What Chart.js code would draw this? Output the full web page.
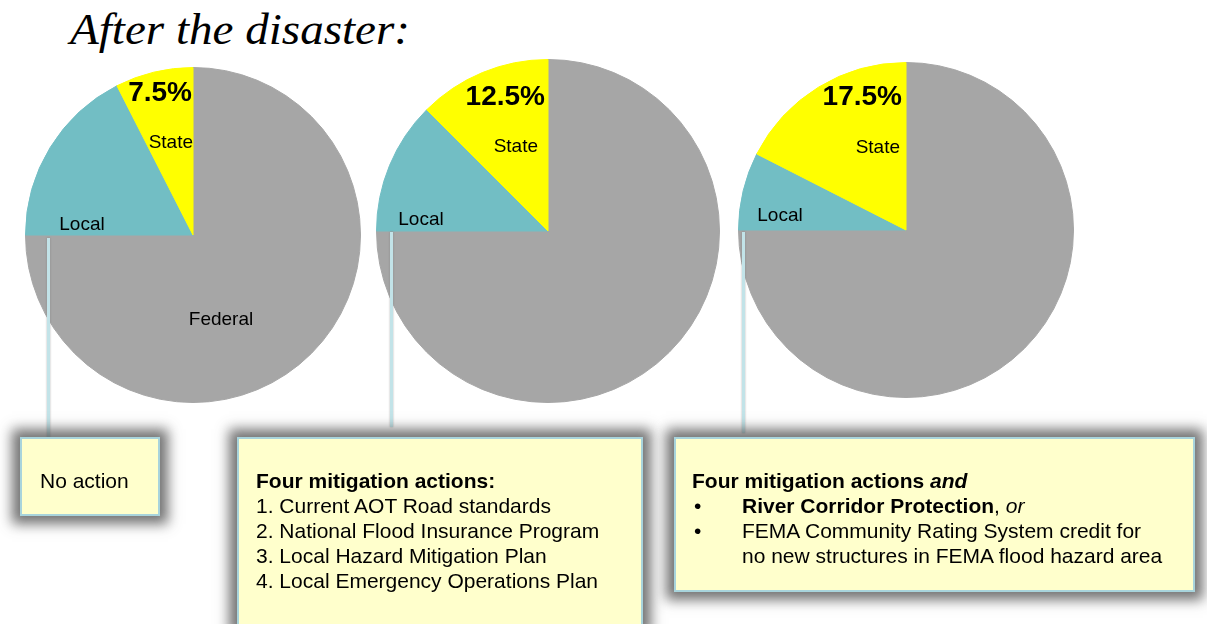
<!DOCTYPE html>
<html>
<head>
<meta charset="utf-8">
<script src="https://cdn.jsdelivr.net/npm/chart.js@4"></script>
<style>
  body { margin: 0; width: 1207px; height: 624px; background: #fff; position: relative; overflow: hidden; font-family: "Liberation Sans", Arial, sans-serif; }
  .title { position: absolute; left: 70px; top: 8px; font-family: "Liberation Serif", "Times New Roman", serif; font-style: italic; font-size: 44px; line-height: 44px; color: #000; white-space: nowrap; transform: scaleX(1.07); transform-origin: 0 0; }
  .pie { position: absolute; }
  .leader { position: absolute; width: 3px; background: #c2e3e8; box-shadow: 0 0 2px rgba(110,110,110,0.6); z-index: 2; }
  .box { position: absolute; background: #ffffcc; border: 2px solid #a8d4dc; box-shadow: 0 0 12px 8px rgba(80,80,80,0.8); box-sizing: border-box; font-size: 21px; line-height: 25px; color: #000; z-index: 3; }
  .box b { font-weight: bold; }
  .bul { display: flex; }
  .bul span.d { width: 48px; padding-left: 2px; }
</style>
</head>
<body>
<div class="title">After the disaster:</div>

<canvas id="pie1" class="pie"></canvas>
<canvas id="pie2" class="pie"></canvas>
<canvas id="pie3" class="pie"></canvas>

<div class="leader" style="left:47px; top:238px; height:200px;"></div>
<div class="leader" style="left:390px; top:232px; height:195px;"></div>
<div class="leader" style="left:742px; top:232px; height:201px;"></div>

<div class="box" style="left:20px; top:437px; width:140px; height:79px; padding:29px 0 0 18px;">No action</div>
<div class="box" style="left:237px; top:437px; width:406px; height:190px; padding:29px 0 0 17px;">
  <b>Four mitigation actions:</b><br>
  1. Current AOT Road standards<br>
  2. National Flood Insurance Program<br>
  3. Local Hazard Mitigation Plan<br>
  4. Local Emergency Operations Plan
</div>
<div class="box" style="left:674px; top:437px; width:521px; height:155px; padding:29px 0 0 16px;">
  <b>Four mitigation actions <i>and</i></b>
  <div class="bul"><span class="d">•</span><span><b>River Corridor Protection</b>, <i>or</i></span></div>
  <div class="bul"><span class="d">•</span><span>FEMA Community Rating System credit for<br>no new structures in FEMA flood hazard area</span></div>
</div>

<script>
// Funding shares per scenario (Federal, Local, State)
const categories = ['Federal', 'Local', 'State'];
const noAction = [75, 17.5, 7.5];
const fourActions = [75, 12.5, 12.5];
const fourActionsPlus = [75, 7.5, 17.5];
const stateLabels = ['7.5%', '12.5%', '17.5%'];
const sliceColors = ['#a6a6a6', '#72bec4', '#ffff00'];

// where each pie sits and where its text goes (offsets from pie center)
const pieLayout = [
  { id: 'pie1', left: 25, top: 67, size: 336,
    pct: [-1, -142], state: [0, -92], local: [-111, -10], federal: [28, 85] },
  { id: 'pie2', left: 376, top: 59, size: 344,
    pct: [-3, -134], state: [-10, -84], local: [-127, -11], federal: null },
  { id: 'pie3', left: 738, top: 62, size: 336,
    pct: [-4, -133], state: [-6, -82], local: [-126, -14], federal: null }
];

const textPlugin = {
  id: 'sliceText',
  afterDatasetsDraw(chart, args, opts) {
    const arc = chart.getDatasetMeta(0).data[0];
    const cx = arc.x, cy = arc.y;
    const ctx = chart.ctx;
    ctx.save();
    ctx.fillStyle = '#000';
    ctx.textBaseline = 'middle';
    ctx.font = 'bold 28px "Liberation Sans", Arial, sans-serif';
    ctx.textAlign = 'right';
    ctx.fillText(opts.pctText, cx + opts.pct[0], cy + opts.pct[1]);
    ctx.font = '19px "Liberation Sans", Arial, sans-serif';
    ctx.fillText(categories[2], cx + opts.state[0], cy + opts.state[1]);
    ctx.textAlign = 'center';
    ctx.fillText(categories[1], cx + opts.local[0], cy + opts.local[1]);
    if (opts.federal) {
      ctx.fillText(categories[0], cx + opts.federal[0], cy + opts.federal[1]);
    }
    ctx.restore();
  }
};

const seriesList = [noAction, fourActions, fourActionsPlus];

pieLayout.forEach((p, i) => {
  const el = document.getElementById(p.id);
  el.style.left = p.left + 'px';
  el.style.top = p.top + 'px';
  el.style.width = p.size + 'px';
  el.style.height = p.size + 'px';
  el.width = p.size;
  el.height = p.size;
  new Chart(el.getContext('2d'), {
    type: 'pie',
    data: {
      labels: categories,
      datasets: [{
        data: seriesList[i],
        backgroundColor: sliceColors,
        borderColor: sliceColors,
        borderWidth: 1
      }]
    },
    options: {
      responsive: false,
      animation: false,
      layout: { padding: 0 },
      plugins: {
        legend: { display: false },
        tooltip: { enabled: false },
        sliceText: { pctText: stateLabels[i], pct: p.pct, state: p.state, local: p.local, federal: p.federal }
      }
    },
    plugins: [textPlugin]
  });
});
</script>
</body>
</html>
